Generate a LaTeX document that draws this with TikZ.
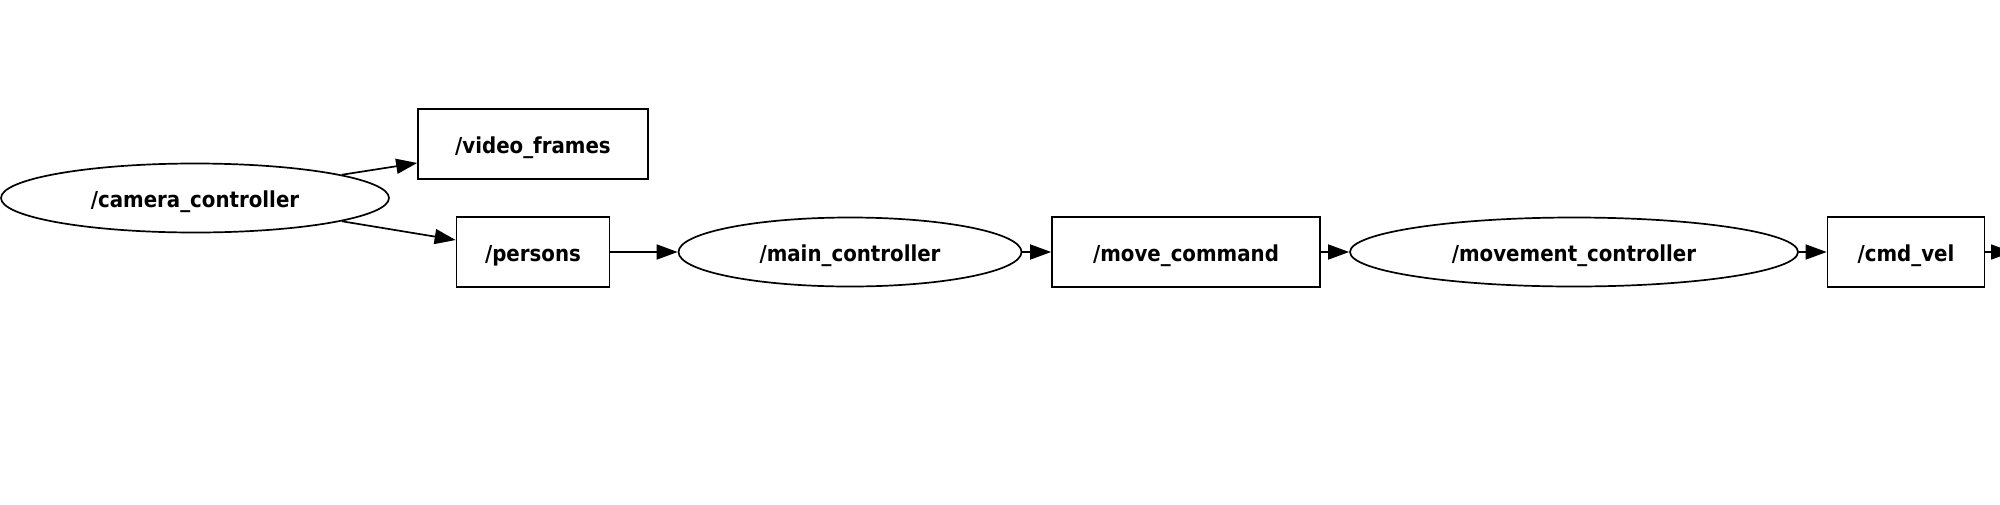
\documentclass[tikz,border=0pt]{standalone}
\usepackage{fontspec}
\setmainfont{DejaVu Sans Condensed}
\usetikzlibrary{shapes.geometric,arrows.meta}
\begin{document}
\begin{tikzpicture}[x=1pt,y=-1pt,
  every node/.style={font=\fontsize{22}{26}\selectfont\bfseries, inner sep=0pt, line width=1.7pt, draw=black, text height=18pt, text depth=0pt},
  topic/.style={rectangle, minimum height=70pt},
  proc/.style={ellipse, minimum height=69pt},
  edge/.style={line width=1.7pt, -{Triangle[length=21pt,width=15pt]}}
]
\useasboundingbox (0,0) rectangle (2000,504);
\node[proc, minimum width=388pt] (cam) at (195,198) {/camera\_controller};
\node[topic, minimum width=230pt] (vf) at (533,144) {/video\_frames};
\node[topic, minimum width=153pt] (per) at (533,252) {/persons};
\node[proc, minimum width=343pt] (main) at (850,252) {/main\_controller};
\node[topic, minimum width=268pt] (mc) at (1186,252) {/move\_command};
\node[proc, minimum width=448pt] (mov) at (1574,252) {/movement\_controller};
\node[topic, minimum width=157pt] (cv) at (1906,252) {/cmd\_vel};
\coordinate (out) at (2012,252);
\draw[edge] (cam.9.6) -- ([yshift=-19pt]vf.west);
\draw[edge] (cam.-9) -- ([yshift=12pt]per.west);
\draw[edge] (per) -- (main);
\draw[edge] (main) -- (mc);
\draw[edge] (mc) -- (mov);
\draw[edge] (mov) -- (cv);
\draw[edge] (cv) -- (out);
\end{tikzpicture}
\end{document}
